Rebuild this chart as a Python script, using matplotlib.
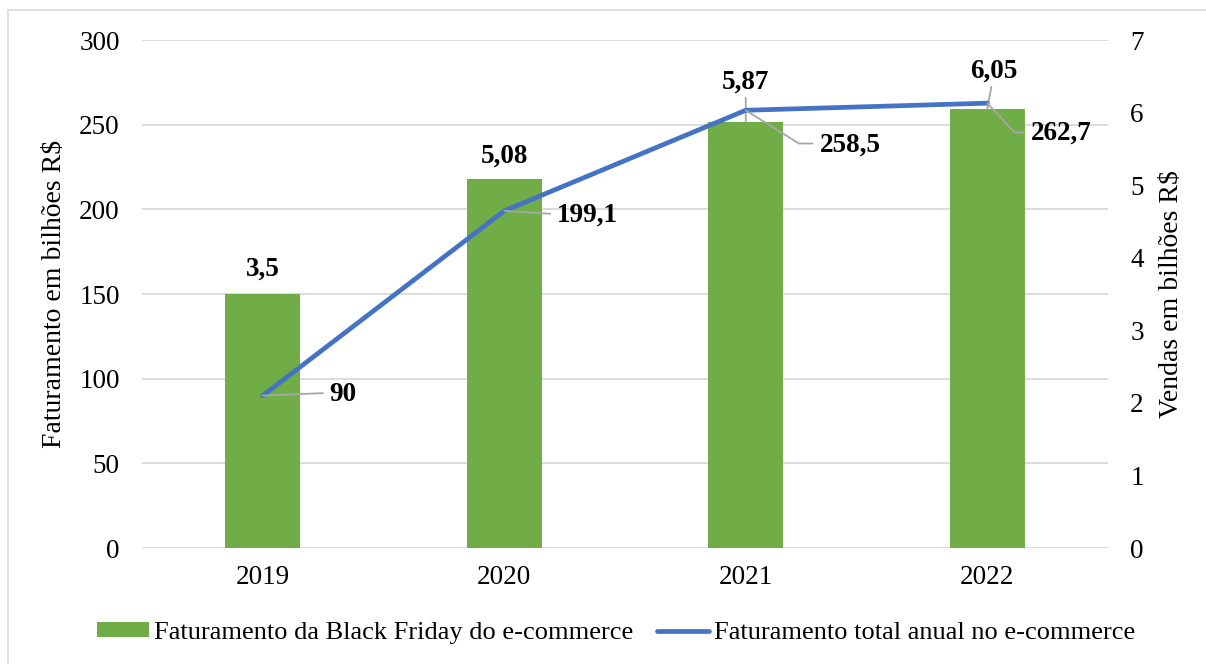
import matplotlib
matplotlib.use("Agg")
import matplotlib.pyplot as plt
from matplotlib.patches import Patch, Rectangle
from matplotlib.lines import Line2D

plt.rcParams['font.family'] = ['Liberation Serif', 'DejaVu Serif']

years = ['2019', '2020', '2021', '2022']
black_friday = [3.5, 5.08, 5.87, 6.05]          # right axis (Vendas)
total_annual = [90, 199.1, 258.5, 262.7]        # left axis (Faturamento)
bf_labels = ['3,5', '5,08', '5,87', '6,05']
total_labels = ['90', '199,1', '258,5', '262,7']
left_ticks = [0, 50, 100, 150, 200, 250, 300]
right_ticks = [0, 1, 2, 3, 4, 5, 6, 7]

GREEN = '#70AD47'
BLUE = '#4472C4'
GRID = '#D9D9D9'
LEADER = '#A6A6A6'
FS = 19.5

fig = plt.figure(figsize=(12.06, 6.64), dpi=100)
fig.patches.append(Rectangle((8 / 1206, -0.01), 1.0, 1 - 10 / 664 + 0.01,
                             transform=fig.transFigure, fill=False,
                             edgecolor=GRID, linewidth=1.2))

ax1 = fig.add_axes([142 / 1206, 1 - 548 / 664, (1108 - 142) / 1206, (548 - 40) / 664])
ax2 = ax1.twinx()
ax3 = ax1.twinx()

x = list(range(len(years)))

# grid and left scale
ax1.set_ylim(0, 300)
ax1.set_yticks(left_ticks)
ax1.set_xlim(-0.5, 3.5)
ax1.set_xticks(x)
ax1.set_xticklabels(years)
ax1.grid(axis='y', color=GRID, linewidth=1.3)
ax1.set_axisbelow(True)
ax1.tick_params(axis='y', length=0, labelsize=FS, pad=16)
ax1.tick_params(axis='x', length=0, labelsize=FS, pad=12)
ax1.set_ylabel('Faturamento em bilhões R$', fontsize=20, labelpad=9)
for s in ax1.spines.values():
    s.set_visible(False)

# bars on right scale
ax2.set_ylim(0, 7)
ax2.set_yticks(right_ticks)
ax2.tick_params(axis='y', length=0, labelsize=FS, pad=16)
ax2.set_ylabel('Vendas em bilhões R$', fontsize=20, labelpad=11)
for s in ax2.spines.values():
    s.set_visible(False)
ax2.bar(x, black_friday, width=0.31, color=GREEN, zorder=2)

bf_offsets = [(0, 13), (0, 12.2), (0, 23.8), (5, 22.3)]
bf_leader = [False, False, True, True]
for xi, v, lab, off, ld in zip(x, black_friday, bf_labels, bf_offsets, bf_leader):
    ax2.annotate(lab, xy=(xi, v), xytext=off, textcoords='offset points',
                 ha='center', va='baseline', fontsize=FS, fontweight='bold',
                 arrowprops=dict(arrowstyle='-', color=LEADER, lw=1.3,
                                 shrinkA=0, shrinkB=0) if ld else None)

# line on left scale, drawn above the bars
ax3.set_ylim(0, 300)
ax3.set_yticks([])
for s in ax3.spines.values():
    s.set_visible(False)
ax3.plot(x, total_annual, color=BLUE, linewidth=3.4, solid_capstyle='round', zorder=3)

tot_offsets = [(58, -3.6), (60, -8), (75, -29.5), (53, -26.6)]
tot_conn = ['arc3', 'arc3',
            'angle,angleA=0,angleB=-32,rad=0',
            'angle,angleA=0,angleB=-47,rad=0']
for xi, v, lab, off, cs in zip(x, total_annual, total_labels, tot_offsets, tot_conn):
    ax3.annotate(lab, xy=(xi, v), xytext=off, textcoords='offset points',
                 ha='center', va='baseline', fontsize=FS, fontweight='bold',
                 arrowprops=dict(arrowstyle='-', color=LEADER, lw=1.3,
                                 shrinkA=3, shrinkB=0, connectionstyle=cs,
                                 relpos=(0, 0.55)))

handles = [Patch(facecolor=GREEN, edgecolor='none'),
           Line2D([0], [0], color=BLUE, linewidth=3.4, solid_capstyle='round')]
fig.legend(handles, ['Faturamento da Black Friday do e-commerce',
                     'Faturamento total anual no e-commerce'],
           loc='center', bbox_to_anchor=(0.511, 1 - 633 / 664), ncol=2,
           frameon=False, fontsize=19, handlelength=1.98, handleheight=0.5,
           handletextpad=0.18, columnspacing=0.9)

fig.savefig('out.png', dpi=100)
